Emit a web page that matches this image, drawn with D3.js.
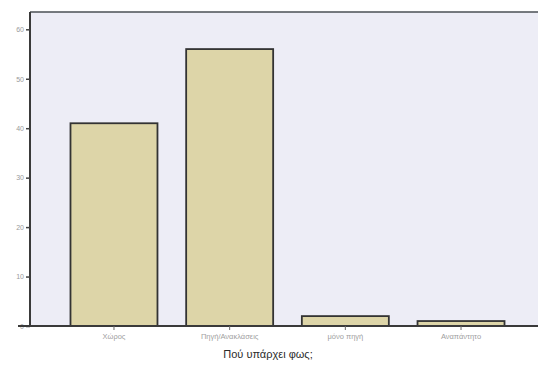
<!DOCTYPE html>
<html>
<head>
<meta charset="utf-8">
<script src="https://cdn.jsdelivr.net/npm/d3@7"></script>
<style>
  html, body { margin: 0; padding: 0; background: #fff; }
  svg { display: block; font-family: Arial, "Liberation Sans", sans-serif; }
</style>
</head>
<body>
<svg id="chart" width="538" height="366"></svg>
<script>
// Answers to "Πού υπάρχει φως;" (percent)
const categories = ["Χώρος", "Πηγή/Ανακλάσεις", "μόνο πηγή", "Αναπάντητο"];
const percents = [41, 56, 2, 1];
const yTicks = [0, 10, 20, 30, 40, 50, 60];
const xTitle = "Πού υπάρχει φως;";

const W = 538, H = 366;
const plot = { left: 30, top: 12, right: 538, bottom: 326 };

const svg = d3.select("#chart");

const x = d3.scaleBand()
  .domain(categories)
  .range([plot.left, 545])
  .paddingInner(0.248)
  .paddingOuter(0.35);

const y = d3.scaleLinear()
  .domain([0, 63.5])
  .range([plot.bottom, plot.top]);

// plot background
svg.append("rect")
  .attr("x", plot.left).attr("y", plot.top)
  .attr("width", plot.right - plot.left)
  .attr("height", plot.bottom - plot.top)
  .attr("fill", "#ededf6");

// top frame line
svg.append("line")
  .attr("x1", plot.left).attr("x2", plot.right)
  .attr("y1", plot.top).attr("y2", plot.top)
  .attr("stroke", "#4a4f55").attr("stroke-width", 1.5);

// bars
svg.append("g").selectAll("rect")
  .data(categories)
  .join("rect")
  .attr("x", d => x(d))
  .attr("width", x.bandwidth())
  .attr("y", (d, i) => y(percents[i]))
  .attr("height", (d, i) => y(0) - y(percents[i]))
  .attr("fill", "#ddd5a8")
  .attr("stroke", "#333")
  .attr("stroke-width", 1.8);

// y axis
const yAxis = svg.append("g")
  .attr("transform", `translate(${plot.left},0)`)
  .call(d3.axisLeft(y).tickValues(yTicks).tickSize(4).tickPadding(2).tickFormat(d3.format("d")));
yAxis.select(".domain").attr("stroke", "#3a3a3a").attr("stroke-width", 2)
  .attr("d", `M0,${plot.top}V${plot.bottom}`);
yAxis.selectAll(".tick line").attr("stroke", "#444").attr("stroke-width", 1.5);
yAxis.selectAll(".tick text").attr("fill", "#9a9a9a").attr("font-size", 7);

// x axis
const xAxis = svg.append("g")
  .attr("transform", `translate(0,${plot.bottom})`)
  .call(d3.axisBottom(x).tickSize(4).tickPadding(4));
xAxis.select(".domain").attr("stroke", "#3a3a3a").attr("stroke-width", 2)
  .attr("d", `M18,0H${plot.right}`);
xAxis.selectAll(".tick line").attr("stroke", "#666").attr("stroke-width", 1);
xAxis.selectAll(".tick text").attr("fill", "#a0a0a0").attr("font-size", 7.5);

// axis title
svg.append("text")
  .attr("x", 268).attr("y", 358)
  .attr("text-anchor", "middle")
  .attr("font-size", 11)
  .attr("fill", "#2a2a2a")
  .text(xTitle);
</script>
</body>
</html>
